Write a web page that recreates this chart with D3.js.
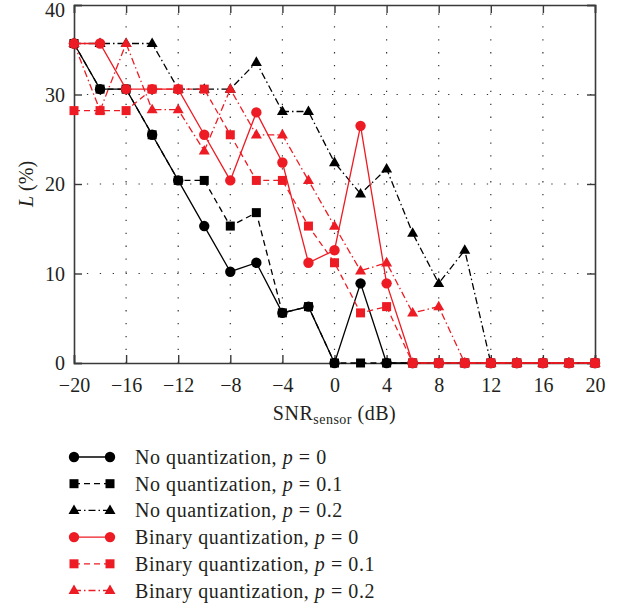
<!DOCTYPE html>
<html><head><meta charset="utf-8">
<script src="https://cdn.jsdelivr.net/npm/d3@7"></script>
<style>
body{margin:0;background:#fff;}
svg text{font-family:"Liberation Serif","DejaVu Serif",serif;fill:#231f20;}
</style></head>
<body><svg id="c" width="619" height="609"></svg>
<script>
const snr = [-20,-18,-16,-14,-12,-10,-8,-6,-4,-2,0,2,4,6,8,10,12,14,16,18,20];
const noQuantP0  = [35.7,30.6,30.6,25.5,20.4,15.3,10.2,11.2,5.6,6.3,0,8.9,0,0,0,0,0,0,0,0,0];
const noQuantP01 = [35.7,30.6,30.6,25.5,20.4,20.4,15.3,16.8,5.6,6.3,0,0,0,0,0,0,0,0,0,0,0];
const noQuantP02 = [35.7,35.7,35.7,35.7,30.6,30.6,30.6,33.6,28.1,28.1,22.4,18.9,21.7,14.5,8.9,12.6,0,0,0,0,0];
const binP0  = [35.7,35.7,30.6,30.6,30.6,25.5,20.4,28.0,22.4,11.2,12.6,26.5,8.9,0,0,0,0,0,0,0,0];
const binP01 = [28.2,28.2,28.2,30.6,30.6,30.6,25.5,20.4,20.4,15.3,11.2,5.6,6.3,0,0,0,0,0,0,0,0];
const binP02 = [35.7,28.2,35.7,28.3,28.3,23.7,30.6,25.5,25.5,20.4,15.3,10.3,11.2,5.6,6.3,0,0,0,0,0,0];
const xTicks = [-20,-16,-12,-8,-4,0,4,8,12,16,20];
const yTicks = [0,10,20,30,40];
const seriesNames = ["No quantization, ","No quantization, ","No quantization, ","Binary quantization, ","Binary quantization, ","Binary quantization, "];
const pValues = ["0","0.1","0.2","0","0.1","0.2"];

const BLACK = "#000", RED = "#ed1c24";
const series = [
  {vals:noQuantP0,  color:BLACK, marker:"circle",   dash:null},
  {vals:noQuantP01, color:BLACK, marker:"square",   dash:"6,4"},
  {vals:noQuantP02, color:BLACK, marker:"triangle", dash:"7,3,1.5,3"},
  {vals:binP0,  color:RED, marker:"circle",   dash:null},
  {vals:binP01, color:RED, marker:"square",   dash:"6,4"},
  {vals:binP02, color:RED, marker:"triangle", dash:"7,3,1.5,3"}
];
const drawOrder = [0,1,2,5,4,3];

const svg = d3.select("#c");
const L = 74, R = 595, T = 5, B = 363;
const x = d3.scaleLinear().domain([-20,20]).range([L,R]);
const y = d3.scaleLinear().domain([0,40]).range([B,T]);

// grid
const g = svg.append("g");
xTicks.slice(1,-1).forEach(t=>{
  g.append("line").attr("x1",x(t)).attr("x2",x(t)).attr("y1",B).attr("y2",T)
   .attr("stroke","#333").attr("stroke-width",1.2).attr("stroke-dasharray","1.3,11.6");
});
yTicks.slice(1,-1).forEach(t=>{
  g.append("line").attr("x1",L).attr("x2",R).attr("y1",y(t)).attr("y2",y(t))
   .attr("stroke","#333").attr("stroke-width",1.2).attr("stroke-dasharray","1.3,11.6");
});

// axes
const tk = 8;
const xAxB = svg.append("g").attr("transform",`translate(0,${B})`)
  .call(d3.axisBottom(x).tickValues(xTicks).tickSize(-tk).tickPadding(0).tickFormat(d=>d<0?"\u2212"+Math.abs(d):d));
const xAxT = svg.append("g").attr("transform",`translate(0,${T})`)
  .call(d3.axisTop(x).tickValues(xTicks).tickSize(-tk).tickFormat(""));
const yAxL = svg.append("g").attr("transform",`translate(${L},0)`)
  .call(d3.axisLeft(y).tickValues(yTicks).tickSize(-tk).tickPadding(0).tickFormat(d=>d));
const yAxR = svg.append("g").attr("transform",`translate(${R},0)`)
  .call(d3.axisRight(y).tickValues(yTicks).tickSize(-tk).tickFormat(""));
[xAxB,xAxT,yAxL,yAxR].forEach(a=>{
  a.select(".domain").attr("stroke","#3a3a3a").attr("stroke-width",1.6);
  a.selectAll(".tick line").attr("stroke","#3a3a3a").attr("stroke-width",1.4);
  a.selectAll("text").attr("font-size",20).attr("fill","#231f20")
   .attr("font-family",'"Liberation Serif","DejaVu Serif",serif');
});
xAxB.selectAll(".tick text").attr("y",29).attr("dy",0);
yAxL.selectAll(".tick text").attr("x",-9).attr("dy","0.34em")
  .attr("y",d=>Math.max(0, 10 - y(d)));

// axis titles
const xt = svg.append("text").attr("x",(L+R)/2).attr("y",420).attr("text-anchor","middle")
  .attr("font-size",20).attr("letter-spacing",0.5);
xt.append("tspan").text("SNR");
xt.append("tspan").attr("font-size",14).attr("dy",4).text("sensor");
xt.append("tspan").attr("dy",-4).text(" (dB)");
const yt = svg.append("text").attr("transform",`translate(33,${(T+B)/2}) rotate(-90)`).attr("text-anchor","middle").attr("font-size",20);
yt.append("tspan").attr("font-style","italic").text("L");
yt.append("tspan").text(" (%)");

function marker(sel, type, color, cx, cy){
  if(type==="circle") sel.append("circle").attr("cx",cx).attr("cy",cy).attr("r",5.2).attr("fill",color);
  else if(type==="square") sel.append("rect").attr("x",cx-4.5).attr("y",cy-4.5).attr("width",9).attr("height",9).attr("fill",color);
  else {
    const s=11, h=s*0.866;
    sel.append("path").attr("d",`M${cx},${cy-h*0.62}L${cx+s/2},${cy+h*0.38}L${cx-s/2},${cy+h*0.38}Z`).attr("fill",color);
  }
}

const line = d3.line().x((d,i)=>x(snr[i])).y(d=>y(d));
drawOrder.forEach(k=>{
  const s = series[k];
  const grp = svg.append("g");
  grp.append("path").attr("d",line(s.vals)).attr("fill","none").attr("stroke",s.color)
    .attr("stroke-width",1.3).attr("stroke-dasharray",s.dash);
  s.vals.forEach((v,i)=>marker(grp,s.marker,s.color,x(snr[i]),y(v)));
});

// legend
const lg = svg.append("g");
series.forEach((s,i)=>{
  const cy = 457 + i*26.7;
  lg.append("line").attr("x1",74).attr("x2",110).attr("y1",cy).attr("y2",cy)
    .attr("stroke",s.color).attr("stroke-width",1.3).attr("stroke-dasharray",s.dash);
  marker(lg,s.marker,s.color,74,cy);
  marker(lg,s.marker,s.color,110,cy);
  const t = lg.append("text").attr("x",135).attr("y",cy+7).attr("font-size",20).attr("letter-spacing",0.55);
  t.append("tspan").text(seriesNames[i]);
  t.append("tspan").attr("font-style","italic").text("p");
  t.append("tspan").text(" = "+pValues[i]);
});
</script></body></html>
